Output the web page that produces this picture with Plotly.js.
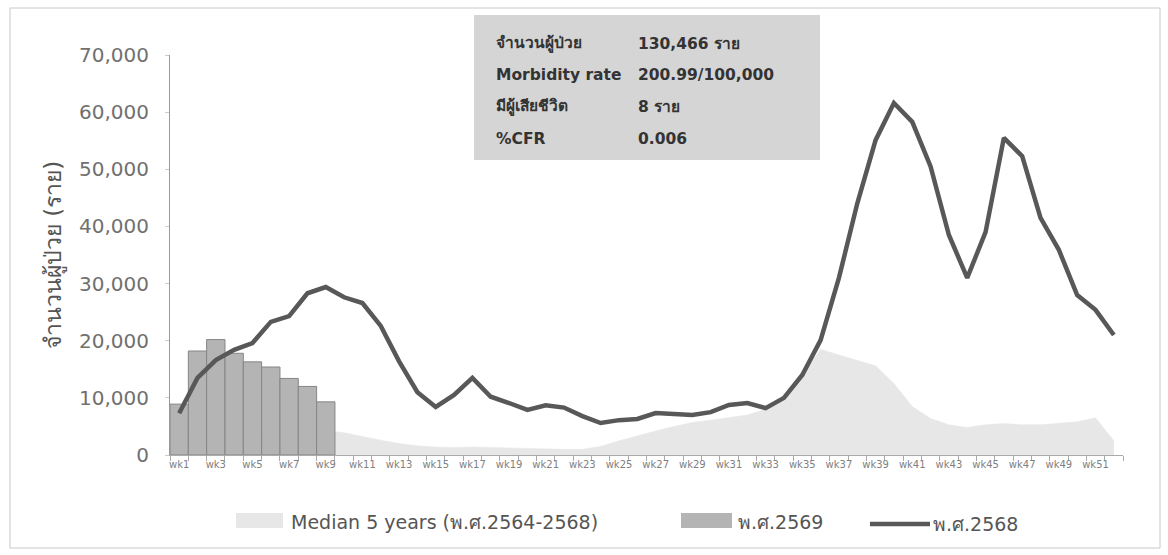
<!DOCTYPE html>
<html>
<head>
<meta charset="utf-8">
<script src="https://cdn.plot.ly/plotly-3.0.1.min.js"></script>
<style>html,body{margin:0;padding:0;background:#fff;}#chart{width:1168px;height:555px;}</style>
</head>
<body>
<div id="chart"></div>
<script>
const weeks = ['wk1','wk2','wk3','wk4','wk5','wk6','wk7','wk8','wk9','wk10','wk11','wk12','wk13','wk14','wk15','wk16','wk17','wk18','wk19','wk20','wk21','wk22','wk23','wk24','wk25','wk26','wk27','wk28','wk29','wk30','wk31','wk32','wk33','wk34','wk35','wk36','wk37','wk38','wk39','wk40','wk41','wk42','wk43','wk44','wk45','wk46','wk47','wk48','wk49','wk50','wk51','wk52'];
const weekTickText = ['wk1','','wk3','','wk5','','wk7','','wk9','','wk11','','wk13','','wk15','','wk17','','wk19','','wk21','','wk23','','wk25','','wk27','','wk29','','wk31','','wk33','','wk35','','wk37','','wk39','','wk41','','wk43','','wk45','','wk47','','wk49','','wk51',''];
const median5y = [4000,4500,5000,5200,5200,5000,4800,4600,4300,3900,3200,2600,2000,1600,1400,1300,1400,1300,1200,1100,1000,1000,1000,1500,2500,3400,4200,5000,5700,6100,6500,7000,8000,10000,14000,18500,17500,16500,15600,12500,8500,6400,5300,4800,5300,5500,5300,5300,5500,5800,6500,2500];
const weeks2569 = ['wk1','wk2','wk3','wk4','wk5','wk6','wk7','wk8','wk9'];
const cases2569 = [8900,18200,20200,17800,16300,15400,13400,12000,9300];
const cases2568 = [7300,13500,16600,18400,19600,23300,24300,28300,29400,27600,26600,22600,16400,11000,8400,10500,13500,10200,9100,7900,8700,8300,6800,5600,6100,6300,7350,7200,7000,7500,8750,9100,8200,10000,14000,20100,31000,44000,55100,61600,58300,50500,38500,31000,39000,55500,52300,41500,35900,28000,25400,21000];
const yTicks = [0,10000,20000,30000,40000,50000,60000,70000];
const seriesNames = ['Median 5 years (พ.ศ.2564-2568)','พ.ศ.2569','พ.ศ.2568'];
const infoLabels = ['จำนวนผู้ป่วย','Morbidity rate','มีผู้เสียชีวิต','%CFR'];
const infoValues = ['130,466 ราย','200.99/100,000','8 ราย','0.006'];
const yTitle = 'จำนวนผู้ป่วย (ราย)';

const W = 1168, H = 555, L = 170, R = 45, T = 55, B = 100;
const pw = W - L - R, ph = H - T - B;
const px = v => (v - L) / pw;
const py = v => (H - B - v) / ph;

const traces = [
  {type:'scatter', mode:'lines', x:weeks, y:median5y, name:seriesNames[0], fill:'tozeroy',
   fillcolor:'#e7e7e7', line:{color:'#e7e7e7', width:0.5}, xaxis:'x', yaxis:'y', hoverinfo:'skip'},
  {type:'bar', x:weeks2569, y:cases2569, name:seriesNames[1],
   marker:{color:'#b4b4b4', line:{color:'#858585', width:1}}, xaxis:'x', yaxis:'y2'},
  {type:'scatter', mode:'lines', x:weeks, y:cases2568, name:seriesNames[2],
   line:{color:'#585858', width:4.5}, xaxis:'x', yaxis:'y3'}
];

const annotations = [];
const rowsY = [44, 75, 107, 139];
const infoFont = {family:'DejaVu Sans, Noto Sans', size:15.5, color:'#333'};
infoLabels.forEach((t,i)=>{
  annotations.push({xref:'paper', yref:'paper', x:px(494), y:py(rowsY[i]), xanchor:'left', yanchor:'middle',
    text:'<b>'+t+'</b>', showarrow:false, font:infoFont});
  annotations.push({xref:'paper', yref:'paper', x:px(636), y:py(rowsY[i]), xanchor:'left', yanchor:'middle',
    text:'<b>'+infoValues[i]+'</b>', showarrow:false, font:infoFont});
});
const legFont = {family:'DejaVu Sans, Noto Sans', size:19, color:'#555'};
annotations.push({xref:'paper', yref:'paper', x:px(289), y:py(522), xanchor:'left', yanchor:'middle', text:seriesNames[0], showarrow:false, font:legFont});
annotations.push({xref:'paper', yref:'paper', x:px(736), y:py(522), xanchor:'left', yanchor:'middle', text:seriesNames[1], showarrow:false, font:legFont});
annotations.push({xref:'paper', yref:'paper', x:px(931), y:py(524), xanchor:'left', yanchor:'middle', text:seriesNames[2], showarrow:false, font:legFont});

const shapes = [
  {type:'rect', xref:'paper', yref:'paper', x0:px(10), x1:px(1160), y0:py(548), y1:py(8), line:{color:'#c8c8c8', width:1}, fillcolor:'rgba(0,0,0,0)', layer:'below'},
  {type:'rect', xref:'paper', yref:'paper', x0:px(474), x1:px(820), y0:py(160), y1:py(15), line:{width:0}, fillcolor:'#d5d5d5', layer:'above'},
  {type:'rect', xref:'paper', yref:'paper', x0:px(236), x1:px(283), y0:py(528), y1:py(513), line:{width:0}, fillcolor:'#e7e7e7'},
  {type:'rect', xref:'paper', yref:'paper', x0:px(681), x1:px(732), y0:py(528), y1:py(513), line:{width:0}, fillcolor:'#b4b4b4'},
  {type:'line', xref:'paper', yref:'paper', x0:px(870), x1:px(930), y0:py(524), y1:py(524), line:{color:'#585858', width:4.5}}
];

const yBase = {range:[0,70000], showgrid:false, zeroline:false, fixedrange:true};
const layout = {
  width:W, height:H, margin:{l:L, r:R, t:T, b:B},
  paper_bgcolor:'#fff', plot_bgcolor:'#fff', showlegend:false, bargap:0.0,
  font:{family:'DejaVu Sans, Noto Sans', color:'#666'},
  xaxis:{type:'category', categoryorder:'array', categoryarray:weeks, range:[-0.5,51.5],
    tickmode:'array', tickvals:weeks, ticktext:weekTickText, tickson:'boundaries',
    ticks:'outside', ticklen:5, tickcolor:'#aaa', showline:true, linecolor:'#aaa', linewidth:1,
    showgrid:false, zeroline:false, tickangle:0, tickfont:{family:'DejaVu Sans', size:10, color:'#808080'}},
  yaxis:Object.assign({}, yBase, {tickmode:'array', tickvals:yTicks, tickformat:',d',
    showline:true, linecolor:'#999', linewidth:1, ticks:'outside', ticklen:4, tickcolor:'#ccc',
    ticklabelstandoff:12, tickfont:{family:'DejaVu Sans', size:20, color:'#707070'},
    title:{text:yTitle, standoff:10, font:{family:'DejaVu Sans, Noto Sans', size:23, color:'#555'}}}),
  yaxis2:Object.assign({}, yBase, {overlaying:'y', visible:false}),
  yaxis3:Object.assign({}, yBase, {overlaying:'y', visible:false}),
  annotations:annotations, shapes:shapes
};
Plotly.newPlot('chart', traces, layout, {displayModeBar:false, staticPlot:true});
</script>
</body>
</html>
